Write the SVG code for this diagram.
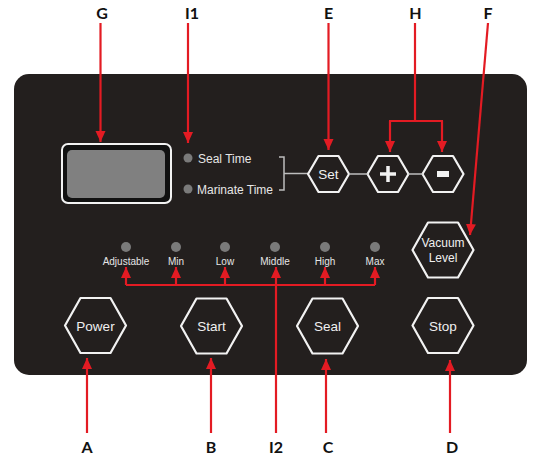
<svg xmlns="http://www.w3.org/2000/svg" xmlns:xlink="http://www.w3.org/1999/xlink" width="535" height="460" viewBox="0 0 535 460">
<style>
.lbl{font-family:Lato,"Open Sans","Liberation Sans",sans-serif;font-weight:bold;font-size:16px;fill:#111;text-anchor:middle}
.hex{fill:none;stroke:#f2f2f2;stroke-width:2.2;stroke-linejoin:round}
.bt{font-family:"Liberation Sans",Arial,sans-serif;font-size:13.5px;fill:#f0f0f0;text-anchor:middle}
.vt{font-family:"Liberation Sans",Arial,sans-serif;font-size:12px;fill:#f0f0f0;text-anchor:middle}
.tt{font-family:"Liberation Sans",Arial,sans-serif;font-size:12px;fill:#e6e6e6}
.lt{font-family:"Liberation Sans",Arial,sans-serif;font-size:10px;fill:#e6e6e6;text-anchor:middle}
.led{fill:#7a7a7a}
.red{fill:none;stroke:#e31b23;stroke-width:2.2}
.arr{marker-end:url(#ah)}
.gl{fill:none;stroke:#bdbdbd;stroke-width:1.5}
</style>
<defs>
<marker id="ah" markerUnits="userSpaceOnUse" markerWidth="12" markerHeight="12" viewBox="0 0 12 12" refX="11" refY="6" orient="auto">
<path d="M0,1 L11,6 L0,11 Z" fill="#e31b23"/>
</marker>
<polygon id="hs" points="-20.5,0 -10,-18 10,-18 20.5,0 10,18 -10,18"/>
<polygon id="hl" points="-30.5,0 -15,-27.5 15,-27.5 30.5,0 15,27.5 -15,27.5"/>
</defs>
<rect id="panel" x="14" y="74" width="513" height="301" rx="15" fill="#231f1e"/>
<g id="display">
<rect x="62" y="144" width="109" height="59" rx="6" fill="#111" stroke="#f2f2f2" stroke-width="2"/>
<rect x="67" y="150" width="98" height="48" rx="5" fill="#808080"/>
</g>
<g id="time-indicators">
<circle class="led" cx="188" cy="158" r="4.5"/>
<text class="tt" x="198" y="163">Seal Time</text>
<circle class="led" cx="188" cy="189" r="4.5"/>
<text class="tt" x="197" y="193.5">Marinate Time</text>
<path class="gl" d="M279,157 H284 V190 H279 M284,173.5 H308"/>
</g>
<g id="btn-set"><use xlink:href="#hs" class="hex" x="328.5" y="174"/><text class="bt" x="328.5" y="179">Set</text></g>
<g id="btn-plus"><use xlink:href="#hs" class="hex" x="388" y="174"/><path d="M388,166 V182 M380,174 H396" stroke="#f2f2f2" stroke-width="3.5"/></g>
<g id="btn-minus"><use xlink:href="#hs" class="hex" x="443" y="174"/><rect x="437" y="171" width="12" height="6" fill="#f2f2f2"/></g>
<path class="gl" d="M349,174 H367.5 M408.5,174 H422.5"/>
<g id="btn-vacuum"><use xlink:href="#hl" class="hex" x="443" y="250"/><text class="vt" x="443" y="247">Vacuum</text><text class="vt" x="443" y="262">Level</text></g>
<g id="level-leds">
<circle class="led" cx="126" cy="247" r="5"/><text class="lt" x="126" y="265">Adjustable</text>
<circle class="led" cx="176" cy="247" r="5"/><text class="lt" x="176" y="265">Min</text>
<circle class="led" cx="225" cy="247" r="5"/><text class="lt" x="225" y="265">Low</text>
<circle class="led" cx="275" cy="247" r="5"/><text class="lt" x="275" y="265">Middle</text>
<circle class="led" cx="325" cy="247" r="5"/><text class="lt" x="325" y="265">High</text>
<circle class="led" cx="375" cy="247" r="5"/><text class="lt" x="375" y="265">Max</text>
</g>
<g id="btn-power"><use xlink:href="#hl" class="hex" x="95.5" y="325.5"/><text class="bt" x="95.5" y="330.5">Power</text></g>
<g id="btn-start"><use xlink:href="#hl" class="hex" x="211.5" y="326"/><text class="bt" x="211.5" y="331">Start</text></g>
<g id="btn-seal"><use xlink:href="#hl" class="hex" x="327.5" y="326"/><text class="bt" x="327.5" y="331">Seal</text></g>
<g id="btn-stop"><use xlink:href="#hl" class="hex" x="443" y="325.5"/><text class="bt" x="443" y="330.5">Stop</text></g>
<g id="connectors">
<path class="red arr" d="M100.5,23 V142"/>
<path class="red arr" d="M188,23 V143"/>
<path class="red arr" d="M328.5,23 V150"/>
<path class="red" d="M415,23 V121 M389,121 H443"/>
<path class="red arr" d="M390,121 V152"/>
<path class="red arr" d="M442,121 V152"/>
<path class="red arr" d="M488,23 L470,235"/>
<path class="red" d="M126,285 H375"/>
<path class="red arr" d="M126,285 V267"/>
<path class="red arr" d="M176,285 V267"/>
<path class="red arr" d="M225,285 V267"/>
<path class="red arr" d="M325,285 V267"/>
<path class="red arr" d="M375,285 V267"/>
<path class="red arr" d="M276,433 V267"/>
<path class="red arr" d="M87,433 V358"/>
<path class="red arr" d="M211,433 V358"/>
<path class="red arr" d="M326,433 V359"/>
<path class="red arr" d="M450,433 V360"/>
</g>
<g id="labels">
<text class="lbl" x="102" y="19">G</text>
<text class="lbl" x="192" y="19">I1</text>
<text class="lbl" x="328.5" y="19">E</text>
<text class="lbl" x="415.5" y="19">H</text>
<text class="lbl" x="488" y="19">F</text>
<text class="lbl" x="87" y="453">A</text>
<text class="lbl" x="211" y="453">B</text>
<text class="lbl" x="276" y="453">I2</text>
<text class="lbl" x="328" y="453">C</text>
<text class="lbl" x="452" y="453">D</text>
</g>
</svg>
